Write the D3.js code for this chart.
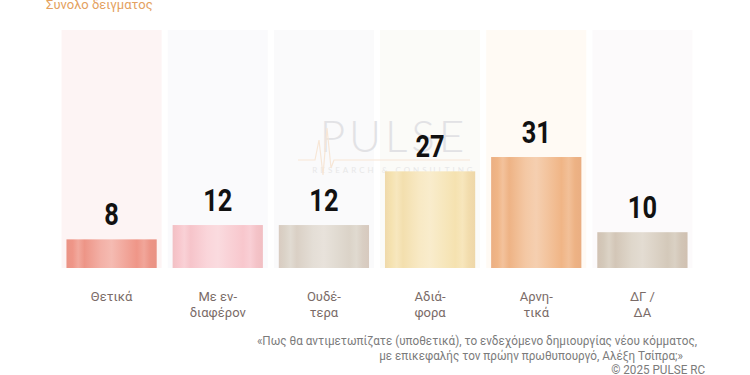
<!DOCTYPE html>
<html>
<head>
<meta charset="utf-8">
<script src="https://cdn.jsdelivr.net/npm/d3@7"></script>
<style>
  body { margin: 0; background: #fff; }
  svg { display: block; }
</style>
</head>
<body>
<script>
var width = 750,
    height = 375;

// data
var categories = ["Θετικά", "Με ενδιαφέρον", "Ουδέτερα", "Αδιάφορα", "Αρνητικά", "ΔΓ / ΔΑ"];
var labelLines = [["Θετικά"], ["Με εν-", "διαφέρον"], ["Ουδέ-", "τερα"], ["Αδιά-", "φορα"], ["Αρνη-", "τικά"], ["ΔΓ /", "ΔΑ"]];
var values = [8, 12, 12, 27, 31, 10];

// palette (one per bar)
var barColors = ["#ef9688", "#f8c7cd", "#dbd3c8", "#f5e2b0", "#f0b586", "#d4c9ba"];
var colBg = ["#fdf4f4", "#fafafc", "#fafafb", "#fbfbf8", "#fffaf4", "#fcfafb"];

var title = "Συνολο δειγματος";
var footer = [
  "«Πως θα αντιμετωπίζατε (υποθετικά), το ενδεχόμενο δημιουργίας νέου κόμματος,",
  "με επικεφαλής τον πρώην πρωθυπουργό, Αλέξη Τσίπρα;»",
  "©  2025  PULSE RC"
];

var svg = d3.select("body").append("svg")
    .attr("width", width)
    .attr("height", height);

var x = d3.scaleBand()
    .domain(categories)
    .range([58.5, 695.5])
    .paddingInner(0.15)
    .paddingOuter(0.075);

var y = d3.scaleLinear()
    .domain([0, 35])
    .range([268, 268 - 35 * 3.58]);

var defs = svg.append("defs");

// striped horizontal gradient per bar, lighter in the middle
barColors.forEach(function(c, i) {
  var light = d3.interpolateRgb(c, "#fff"),
      dark = d3.interpolateRgb(c, "#b07060");
  var g = defs.append("linearGradient")
      .attr("id", "grad" + i)
      .attr("x1", "0%").attr("x2", "100%")
      .attr("y1", "0%").attr("y2", "0%");
  var stops = [
    [0, dark(0.08)],
    [0.07, c],
    [0.13, light(0.18)],
    [0.2, dark(0.03)],
    [0.38, light(0.25)],
    [0.5, light(0.35)],
    [0.62, light(0.2)],
    [0.78, c],
    [0.86, light(0.15)],
    [0.93, dark(0.05)],
    [1, dark(0.1)]
  ];
  stops.forEach(function(s) {
    g.append("stop").attr("offset", s[0]).attr("stop-color", d3.color(s[1]).formatHex());
  });
});

// title
svg.append("text")
    .attr("x", 46)
    .attr("y", 9)
    .attr("font-family", "Roboto, sans-serif")
    .attr("font-size", 13)
    .attr("fill", "#e4a160")
    .text(title);

// background columns
svg.append("g").selectAll("rect")
    .data(categories)
  .enter().append("rect")
    .attr("x", function(d) { return x(d) + x.bandwidth() / 2 - 50; })
    .attr("y", 30)
    .attr("width", 100)
    .attr("height", y(0) - 30)
    .attr("fill", function(d, i) { return colBg[i]; });

// watermark
var wm = svg.append("g");
wm.append("text")
    .attr("x", 394)
    .attr("y", 152)
    .attr("text-anchor", "middle")
    .attr("font-family", "Lato, sans-serif")
    .attr("font-weight", 300)
    .attr("font-size", 44)
    .attr("letter-spacing", 4)
    .attr("fill", "#e2e2e5")
    .text("PULSE");
wm.append("text")
    .attr("x", 394)
    .attr("y", 173)
    .attr("text-anchor", "middle")
    .attr("font-family", "Lato, sans-serif")
    .attr("font-size", 8)
    .attr("letter-spacing", 3)
    .attr("fill", "#e8e8e8")
    .text("RESEARCH & CONSULTING");
wm.append("path")
    .attr("d", "M298,160 L315,160 L319,140 L323,175 L327,128 L331,168 L334,160 L470,160")
    .attr("fill", "none")
    .attr("stroke", "#f7e6d6")
    .attr("stroke-width", 1.2);

// bars
svg.append("g").selectAll("rect")
    .data(values)
  .enter().append("rect")
    .attr("x", function(d, i) { return x(categories[i]); })
    .attr("y", function(d) { return y(d); })
    .attr("width", x.bandwidth())
    .attr("height", function(d) { return y(0) - y(d); })
    .attr("fill", function(d, i) { return "url(#grad" + i + ")"; });

// value labels (condensed look by squeezing Roboto bold)
svg.append("g").selectAll("text")
    .data(values)
  .enter().append("text")
    .attr("transform", function(d, i) {
      return "translate(" + (x(categories[i]) + x.bandwidth() / 2) + "," + (y(d) - 14) + ") scale(0.82,1)";
    })
    .attr("text-anchor", "middle")
    .attr("font-family", "Roboto, sans-serif")
    .attr("font-weight", "bold")
    .attr("font-size", 31)
    .attr("fill", "#111")
    .text(function(d) { return d; });

// category labels
var cat = svg.append("g").selectAll("text")
    .data(labelLines)
  .enter().append("text")
    .attr("text-anchor", "middle")
    .attr("font-family", "Roboto, sans-serif")
    .attr("font-size", 13)
    .attr("fill", "#7a6b67");

cat.selectAll("tspan")
    .data(function(d, i) { return d.map(function(l) { return {line: l, i: i}; }); })
  .enter().append("tspan")
    .attr("x", function(d) { return x(categories[d.i]) + x.bandwidth() / 2; })
    .attr("y", function(d, j) { return 301 + j * 15.5; })
    .text(function(d) { return d.line; });

// footer, squeezed to a condensed width
var fx = [697, 683, 705];
svg.append("g").selectAll("text")
    .data(footer)
  .enter().append("text")
    .attr("transform", function(d, i) {
      return "translate(" + fx[i] + "," + (345 + i * 14.5) + ") scale(0.9,1)";
    })
    .attr("text-anchor", "end")
    .attr("font-family", "Roboto, sans-serif")
    .attr("font-size", 13)
    .attr("fill", "#7b7b7b")
    .text(function(d) { return d; });
</script>
</body>
</html>
